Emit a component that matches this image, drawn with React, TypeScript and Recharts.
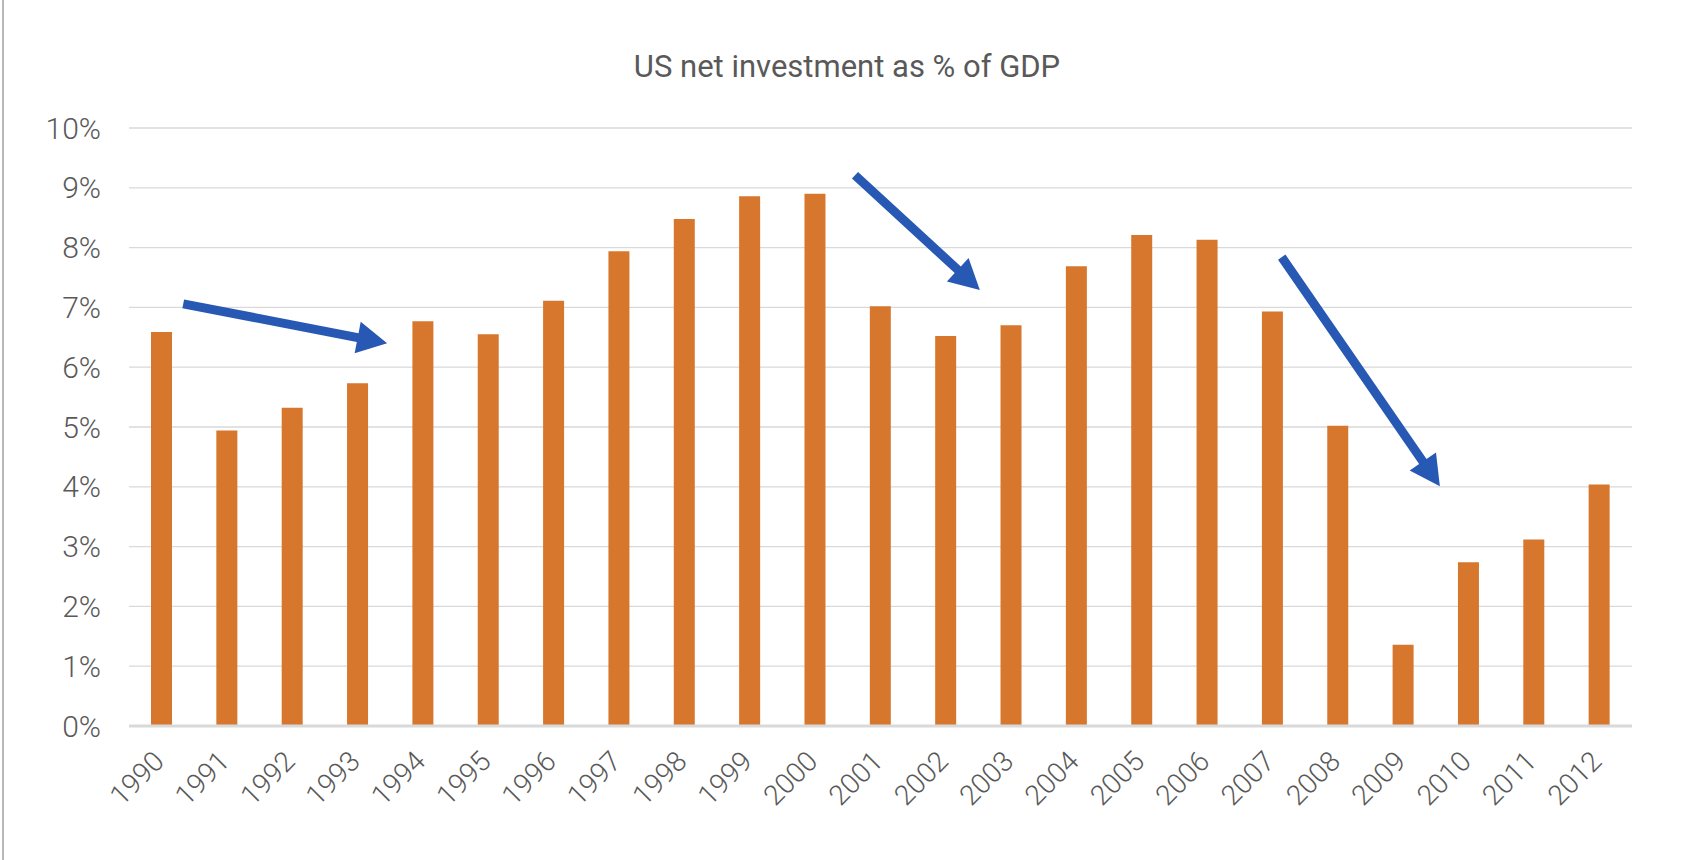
import React from "react"
import { BarChart, Bar, XAxis, YAxis, CartesianGrid } from "recharts"

const years = [
  "1990", "1991", "1992", "1993", "1994", "1995", "1996", "1997", "1998", "1999", "2000", "2001",
  "2002", "2003", "2004", "2005", "2006", "2007", "2008", "2009", "2010", "2011", "2012",
]
const netInvestment = [
  6.59, 4.94, 5.32, 5.73, 6.77, 6.55, 7.11, 7.94, 8.48, 8.86, 8.9, 7.02,
  6.52, 6.7, 7.69, 8.21, 8.13, 6.93, 5.02, 1.36, 2.74, 3.12, 4.04,
]
const yTicks = [0, 1, 2, 3, 4, 5, 6, 7, 8, 9, 10]

// arrow annotations: [category index, percent] for tail and tip
const arrowTails = [[0.33, 7.06], [10.61, 9.21], [17.14, 7.84]]
const arrowTips = [[3.45, 6.4], [12.52, 7.29], [19.56, 4.01]]

const W = 1686
const H = 860
const PLOT_LEFT = 129
const PLOT_RIGHT = 1632
const PLOT_TOP = 128
const PLOT_BOTTOM = 726
const TEXT = "#595959"
const GRID = "#d9d9d9"
const ORANGE = "#d7772d"
const BLUE = "#2759b4"
const FONT = "Roboto, 'Noto Sans', sans-serif"

const data = years.map((y, i) => ({ year: y, value: netInvestment[i] }))

function toPx([idx, pct]: number[]) {
  const step = (PLOT_RIGHT - PLOT_LEFT) / years.length
  const x = PLOT_LEFT + step * (idx + 0.5)
  const y = PLOT_BOTTOM - ((PLOT_BOTTOM - PLOT_TOP) * pct) / 10
  return [x, y]
}

function Arrow({ from, to }: { from: number[]; to: number[] }) {
  const [x1, y1] = toPx(from)
  const [x2, y2] = toPx(to)
  const len = Math.hypot(x2 - x1, y2 - y1)
  const ux = (x2 - x1) / len
  const uy = (y2 - y1) / len
  const nx = -uy
  const ny = ux
  const shaft = 4.5
  const head = 16
  const headLen = 30
  const bx = x2 - ux * headLen
  const by = y2 - uy * headLen
  const pts = [
    [x1 + nx * shaft, y1 + ny * shaft],
    [bx + nx * shaft, by + ny * shaft],
    [bx + nx * head, by + ny * head],
    [x2, y2],
    [bx - nx * head, by - ny * head],
    [bx - nx * shaft, by - ny * shaft],
    [x1 - nx * shaft, y1 - ny * shaft],
  ]
  return <polygon points={pts.map((p) => p.join(",")).join(" ")} fill={BLUE} />
}

function YearTick(props: any) {
  const { x, y, payload } = props
  const tx = x + 4
  const ty = y + 37
  return (
    <text
      x={tx}
      y={ty}
      transform={`rotate(-45, ${tx}, ${ty})`}
      textAnchor="end"
      fill={TEXT}
      fontSize={28}
      fontWeight={300}
      fontFamily={FONT}
    >
      {payload.value}
    </text>
  )
}

export default function App() {
  return (
    <div
      style={{
        position: "absolute",
        left: 0,
        top: 0,
        width: W,
        height: H,
        background: "#fff",
        fontFamily: FONT,
      }}
    >
      <div
        style={{
          position: "absolute",
          left: 2,
          top: 0,
          width: 2,
          height: H,
          background: "#b8b8b8",
        }}
      />
      <BarChart
        width={W}
        height={H}
        data={data}
        margin={{ top: PLOT_TOP, right: W - PLOT_RIGHT, left: 0, bottom: 0 }}
        barSize={21}
      >
        <CartesianGrid vertical={false} stroke={GRID} strokeWidth={1.3} />
        <XAxis
          dataKey="year"
          height={H - PLOT_BOTTOM}
          interval={0}
          tickLine={false}
          tickSize={0}
          tickMargin={0}
          axisLine={{ stroke: GRID, strokeWidth: 3 }}
          tick={<YearTick />}
        />
        <YAxis
          width={PLOT_LEFT}
          domain={[0, 10]}
          ticks={yTicks}
          tickFormatter={(v) => `${v}%`}
          axisLine={false}
          tickLine={false}
          tickSize={0}
          tickMargin={28}
          tick={{ fill: TEXT, fontSize: 30, fontWeight: 300, fontFamily: FONT }}
        />
        <Bar dataKey="value" fill={ORANGE} isAnimationActive={false} />
      </BarChart>
      <svg
        width={W}
        height={H}
        style={{ position: "absolute", left: 0, top: 0, pointerEvents: "none" }}
      >
        <text
          x={847}
          y={77}
          textAnchor="middle"
          fill={TEXT}
          fontSize={31}
          fontFamily={FONT}
        >
          US net investment as % of GDP
        </text>
        {arrowTails.map((t, i) => (
          <Arrow key={i} from={t} to={arrowTips[i]} />
        ))}
      </svg>
    </div>
  )
}
